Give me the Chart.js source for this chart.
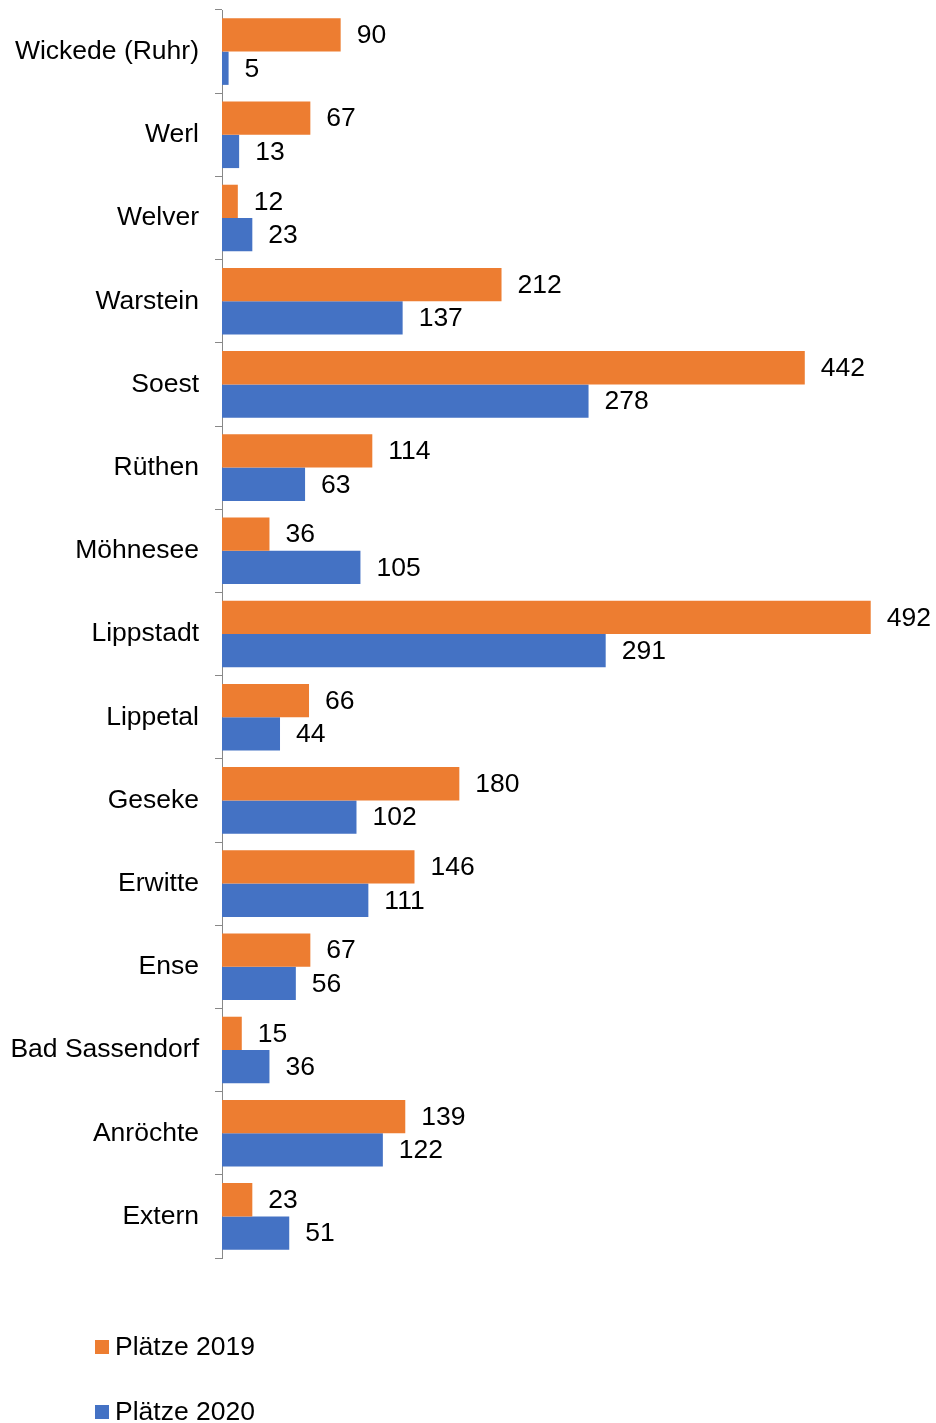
<!DOCTYPE html>
<html>
<head>
<meta charset="utf-8">
<script src="https://cdn.jsdelivr.net/npm/chart.js@4/dist/chart.umd.min.js"></script>
<style>
  html, body { margin: 0; padding: 0; background: #fff; }
  #wrap { position: relative; width: 936px; height: 1423px; }
  #chart { position: absolute; left: 0; top: 0; }
  .leg { position: absolute; left: 95px; font: 26.5px "Liberation Sans", Arial, sans-serif; color: #000; line-height: 30px; }
  .leg i { display: inline-block; width: 14px; height: 14px; margin-right: 6px; vertical-align: 1px; }
</style>
</head>
<body>
<div id="wrap">
  <canvas id="chart" width="936" height="1423"></canvas>
  <div class="leg" id="leg1" style="top:1331px"><i style="background:#ED7D31"></i>Plätze 2019</div>
  <div class="leg" id="leg2" style="top:1396px"><i style="background:#4472C4"></i>Plätze 2020</div>
</div>
<script>
// Orte (von oben nach unten)
const orte = [
  "Wickede (Ruhr)", "Werl", "Welver", "Warstein", "Soest", "Rüthen", "Möhnesee",
  "Lippstadt", "Lippetal", "Geseke", "Erwitte", "Ense", "Bad Sassendorf", "Anröchte", "Extern"
];
const plaetze2019 = [90, 67, 12, 212, 442, 114, 36, 492, 66, 180, 146, 67, 15, 139, 23];
const plaetze2020 = [5, 13, 23, 137, 278, 63, 105, 291, 44, 102, 111, 56, 36, 122, 51];

const FONT = "'Liberation Sans', Arial, sans-serif";

// Werte rechts neben die Balken schreiben
const valueLabels = {
  id: "valueLabels",
  afterDatasetsDraw(chart) {
    const ctx = chart.ctx;
    ctx.save();
    ctx.font = "26.5px " + FONT;
    ctx.fillStyle = "#000";
    ctx.textBaseline = "middle";
    ctx.textAlign = "left";
    chart.data.datasets.forEach((ds, i) => {
      chart.getDatasetMeta(i).data.forEach((bar, j) => {
        ctx.fillText(String(ds.data[j]), bar.x + 16, bar.y + 1);
      });
    });
    ctx.restore();
  }
};

new Chart(document.getElementById("chart"), {
  type: "bar",
  data: {
    labels: orte,
    datasets: [
      { label: "Plätze 2019", data: plaetze2019, backgroundColor: "#ED7D31" },
      { label: "Plätze 2020", data: plaetze2020, backgroundColor: "#4472C4" }
    ]
  },
  plugins: [valueLabels],
  options: {
    indexAxis: "y",
    responsive: false,
    animation: false,
    events: [],
    categoryPercentage: 0.8,
    barPercentage: 1.0,
    layout: { padding: { left: 0, right: 2, top: 10, bottom: 165 } },
    plugins: {
      legend: { display: false },
      tooltip: { enabled: false }
    },
    scales: {
      x: {
        display: false,
        min: 0,
        max: 540
      },
      y: {
        afterFit: s => {
          s.width = 222;
          s.paddingTop = 0;
          s.paddingBottom = 0;
        },
        grid: {
          offset: true,
          drawOnChartArea: false,
          drawTicks: true,
          tickLength: 7,
          color: "#888"
        },
        border: { display: true, color: "#888", width: 1 },
        ticks: {
          color: "#000",
          padding: 16,
          font: { family: FONT, size: 26.5 }
        }
      }
    }
  }
});
</script>
</body>
</html>
